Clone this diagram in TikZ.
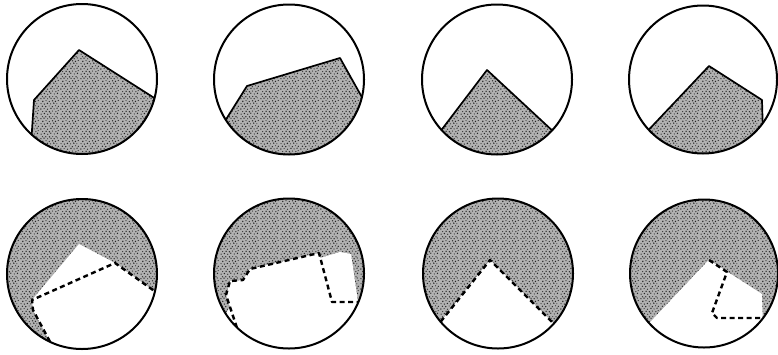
\documentclass[tikz,border=0pt]{standalone}
\usepackage{tikz}
\usetikzlibrary{patterns}

% irregular stipple for the grains
\newcommand{\grain}[3]{\pgfpathcircle{\pgfpoint{#1pt}{#2pt}}{#3pt}}
\pgfdeclarepatternformonly{stipple}{\pgfpoint{0pt}{0pt}}{\pgfpoint{20pt}{20pt}}{\pgfpoint{20pt}{20pt}}{
  \grain{1.2}{0.9}{0.7}\grain{4.6}{1.5}{0.8}\grain{8.1}{0.8}{0.6}\grain{11.3}{1.9}{0.75}\grain{14.9}{1.1}{0.6}\grain{18.2}{1.7}{0.8}
  \grain{2.8}{3.6}{0.6}\grain{6.4}{3.9}{0.75}\grain{9.7}{3.4}{0.8}\grain{13.0}{4.1}{0.6}\grain{16.6}{3.5}{0.7}\grain{19.0}{4.6}{0.6}
  \grain{0.9}{6.2}{0.8}\grain{4.3}{6.6}{0.6}\grain{7.9}{6.0}{0.7}\grain{11.4}{6.9}{0.8}\grain{14.7}{6.3}{0.65}\grain{17.8}{7.1}{0.75}
  \grain{2.5}{9.1}{0.7}\grain{6.0}{8.8}{0.8}\grain{9.5}{9.4}{0.6}\grain{12.9}{8.7}{0.75}\grain{16.3}{9.6}{0.6}\grain{19.1}{9.0}{0.7}
  \grain{1.1}{11.8}{0.6}\grain{4.5}{11.4}{0.75}\grain{7.7}{12.1}{0.8}\grain{11.0}{11.6}{0.6}\grain{14.4}{12.3}{0.8}\grain{17.6}{11.7}{0.6}
  \grain{2.9}{14.3}{0.8}\grain{6.3}{14.9}{0.6}\grain{9.6}{14.1}{0.7}\grain{13.1}{14.8}{0.75}\grain{16.1}{14.2}{0.8}\grain{19.0}{15.1}{0.6}
  \grain{1.0}{17.0}{0.7}\grain{4.2}{17.6}{0.8}\grain{8.0}{16.9}{0.6}\grain{11.5}{17.4}{0.7}\grain{14.8}{17.0}{0.75}\grain{18.0}{17.8}{0.6}
  \grain{2.6}{19.1}{0.6}\grain{6.1}{19.0}{0.7}\grain{9.9}{18.9}{0.8}\grain{13.3}{19.2}{0.6}\grain{16.7}{19.1}{0.7}
  \pgfusepath{fill}
}

\tikzset{
  rim/.style={line width=2pt},
  edge/.style={line width=1.7pt, line join=round},
  hidden/.style={line width=2.4pt, dash pattern=on 5pt off 3.5pt, line join=round},
  grains/.style={fill=black!30, postaction={pattern=stipple, pattern color=black!85}}
}

\begin{document}
\begin{tikzpicture}[x=1pt, y=-1pt]
  \useasboundingbox (0,0) rectangle (778,354);

  % --- Top row: heap at rest ---
  % Circle 1
  \begin{scope}
    \clip (82,79) circle (75);
    \path[grains] (30,160) -- (34,100) -- (79,50) -- (170,108) -- (170,170) -- (30,170) -- cycle;
    \draw[edge] (30,160) -- (34,100) -- (79,50) -- (170,108);
  \end{scope}
  \draw[rim] (82,79) circle (75);
  % Circle 2
  \begin{scope}
    \clip (289,79.5) circle (75);
    \path[grains] (215,137) -- (247,86) -- (340,58) -- (373,117) -- (373,170) -- (215,170) -- cycle;
    \draw[edge] (215,137) -- (247,86) -- (340,58) -- (373,117);
  \end{scope}
  \draw[rim] (289,79.5) circle (75);
  % Circle 3
  \begin{scope}
    \clip (497,79.5) circle (75);
    \path[grains] (430,145) -- (487,70) -- (570,147) -- (570,170) -- (430,170) -- cycle;
    \draw[edge] (430,145) -- (487,70) -- (570,147);
  \end{scope}
  \draw[rim] (497,79.5) circle (75);
  % Circle 4
  \begin{scope}
    \clip (703,79.5) circle (74);
    \path[grains] (640,139) -- (709,66) -- (762,100) -- (764,170) -- (640,170) -- cycle;
    \draw[edge] (640,139) -- (709,66) -- (762,100) -- (764,170);
  \end{scope}
  \draw[rim] (703,79.5) circle (74);

  % --- Bottom row: heap after turning ---
  % Circle 1
  \begin{scope}
    \clip (82,274) circle (75);
    \path[grains] (82,274) circle (80);
    \fill[white] (32,300) -- (79,244) -- (115,263) -- (172,304) -- (172,360) -- (55,351) -- (33,310) -- cycle;
    \draw[hidden] (167,300) -- (115,263) -- (32,300) -- (33,310) -- (55,351);
  \end{scope}
  \draw[rim] (82,274) circle (75);
  % Circle 2
  \begin{scope}
    \clip (289,273.5) circle (75);
    \path[grains] (289,273.5) circle (80);
    \fill[white] (215,331) -- (247,280) -- (340,252) -- (351,254) -- (358,302) -- (358,360) -- (215,360) -- cycle;
    \fill[white] (370,302) -- (332,302) -- (319,253) -- (250,269) -- (243,280) -- (230,281) -- (226,295) -- (238,331) -- (238,360) -- (370,360) -- cycle;
    \draw[hidden] (370,302) -- (332,302) -- (319,253) -- (250,269) -- (243,280) -- (230,281) -- (226,295) -- (238,331);
  \end{scope}
  \draw[rim] (289,273.5) circle (75);
  % Circle 3
  \begin{scope}
    \clip (498,273.5) circle (75);
    \path[grains] (498,273.5) circle (80);
    \fill[white] (430,335) -- (490,260) -- (570,340) -- (570,360) -- (430,360) -- cycle;
    \draw[hidden] (430,335) -- (490,260) -- (570,340);
  \end{scope}
  \draw[rim] (498,273.5) circle (75);
  % Circle 4
  \begin{scope}
    \clip (704,273.5) circle (74);
    \path[grains] (704,273.5) circle (80);
    \fill[white] (640,333) -- (709,260) -- (762,294) -- (764,365) -- (640,365) -- cycle;
    \fill[white] (709,260) -- (727,272) -- (712,313) -- (717,318) -- (785,318) -- (785,365) -- (640,365) -- (640,333) -- cycle;
    \draw[hidden] (709,260) -- (727,272) -- (712,313) -- (717,318) -- (785,318);
  \end{scope}
  \draw[rim] (704,273.5) circle (74);
\end{tikzpicture}
\end{document}
